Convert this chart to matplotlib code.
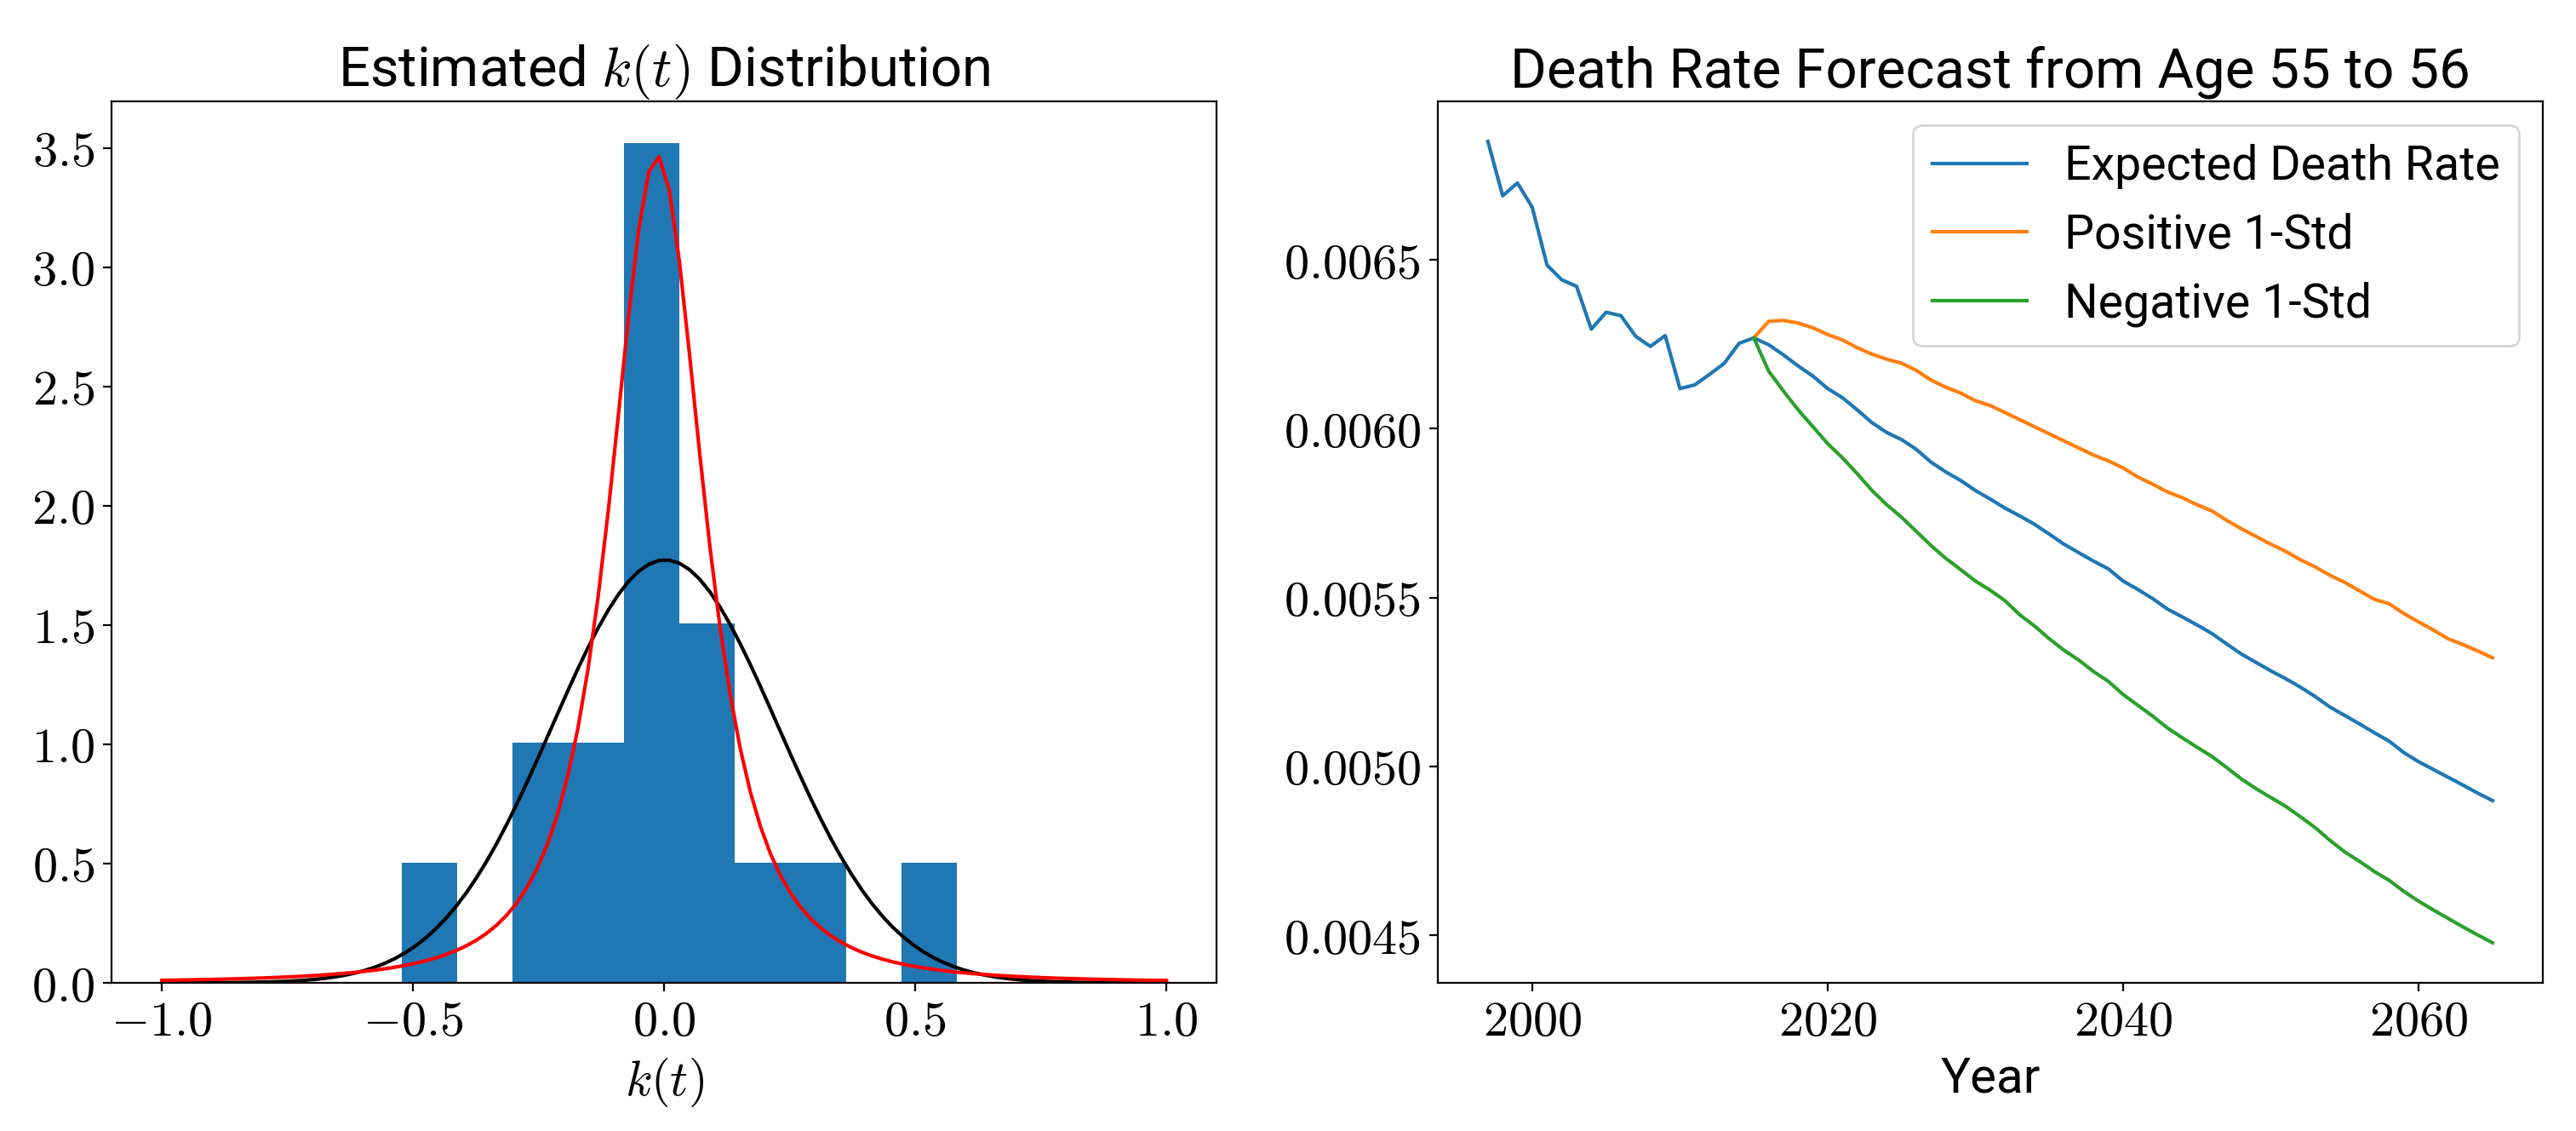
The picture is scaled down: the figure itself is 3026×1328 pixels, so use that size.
import math
import numpy as np
import matplotlib
matplotlib.use("Agg")
import matplotlib.pyplot as plt
from matplotlib.ticker import FuncFormatter

plt.rcParams['mathtext.fontset'] = 'cm'
plt.rcParams['font.family'] = ['Roboto', 'DejaVu Sans']

# Histogram of estimated k(t): bin range and counts per bin
kt_min, kt_max = -0.522, 0.583
kt_counts = [1, 0, 2, 2, 7, 3, 1, 1, 0, 1]

# fitted densities
norm_mu, norm_sigma = 0.002, 0.225
t_df, t_loc, t_scale = 2.0, -0.014, 0.102

# Death rate forecast, age 55 to 56
years = np.arange(1997, 2066)
forecast_years = np.arange(2015, 2066)
expected = [0.006851, 0.006690, 0.006728, 0.006656, 0.006485, 0.006441, 0.006422,
            0.006295, 0.006345, 0.006335, 0.006274, 0.006244, 0.006276, 0.006119,
            0.006130, 0.006161, 0.006194, 0.006253, 0.006269,
            0.006249, 0.006219, 0.006186, 0.006156, 0.006119, 0.006092, 0.006056,
            0.006018, 0.005989, 0.005968, 0.005939, 0.005901, 0.005872, 0.005847,
            0.005817, 0.005792, 0.005765, 0.005742, 0.005717, 0.005688, 0.005658,
            0.005633, 0.005608, 0.005585, 0.005549, 0.005524, 0.005497, 0.005466,
            0.005443, 0.005419, 0.005394, 0.005363, 0.005333, 0.005308, 0.005283,
            0.005260, 0.005235, 0.005207, 0.005176, 0.005151, 0.005126, 0.005100,
            0.005075, 0.005041, 0.005014, 0.004991, 0.004968, 0.004945, 0.004921,
            0.004899]
positive = [0.006269, 0.006318, 0.006321, 0.006313, 0.006299, 0.006279, 0.006263,
            0.006240, 0.006221, 0.006206, 0.006194, 0.006173, 0.006144, 0.006123,
            0.006106, 0.006083, 0.006069, 0.006048, 0.006027, 0.006006, 0.005985,
            0.005964, 0.005943, 0.005922, 0.005905, 0.005884, 0.005857, 0.005836,
            0.005813, 0.005796, 0.005775, 0.005757, 0.005729, 0.005704, 0.005681,
            0.005658, 0.005637, 0.005612, 0.005591, 0.005566, 0.005545, 0.005520,
            0.005495, 0.005482, 0.005453, 0.005428, 0.005404, 0.005378, 0.005361,
            0.005342, 0.005322]
negative = [0.006269, 0.006171, 0.006112, 0.006056, 0.006006, 0.005956, 0.005914,
            0.005867, 0.005817, 0.005775, 0.005738, 0.005696, 0.005654, 0.005616,
            0.005583, 0.005549, 0.005522, 0.005491, 0.005449, 0.005416, 0.005378,
            0.005344, 0.005315, 0.005281, 0.005252, 0.005213, 0.005181, 0.005149,
            0.005114, 0.005085, 0.005057, 0.005030, 0.004997, 0.004963, 0.004934,
            0.004908, 0.004882, 0.004851, 0.004819, 0.004781, 0.004747, 0.004719,
            0.004689, 0.004663, 0.004630, 0.004601, 0.004575, 0.004550, 0.004525,
            0.004501, 0.004478]

fig, (ax1, ax2) = plt.subplots(1, 2, figsize=(15.13, 6.64), dpi=200)
fig.subplots_adjust(left=0.0433, right=0.9871, bottom=0.131, top=0.9104, wspace=0.2)

tick_fs = 21
text_fs = 21
title_fs = 23.5

# --- left: k(t) histogram with fitted curves
edges = np.linspace(kt_min, kt_max, len(kt_counts) + 1)
centers = (edges[:-1] + edges[1:]) / 2
ax1.hist(centers, bins=edges, weights=kt_counts, density=True, color='tab:blue')

x = np.linspace(-1, 1, 100)
y_norm = np.exp(-(x - norm_mu) ** 2 / (2 * norm_sigma ** 2)) / (norm_sigma * math.sqrt(2 * math.pi))
coef = math.gamma((t_df + 1) / 2) / (math.sqrt(t_df * math.pi) * math.gamma(t_df / 2) * t_scale)
y_t = coef * (1 + ((x - t_loc) / t_scale) ** 2 / t_df) ** (-(t_df + 1) / 2)
ax1.plot(x, y_norm, color='black')
ax1.plot(x, y_t, color='red')

ax1.set_title(r'Estimated $k(t)$ Distribution', fontsize=title_fs)
ax1.set_xlabel(r'$k(t)$', fontsize=text_fs)
ax1.xaxis.set_major_formatter(FuncFormatter(lambda v, p: f'${v:.1f}$'))
ax1.yaxis.set_major_formatter(FuncFormatter(lambda v, p: f'${v:.1f}$'))

# --- right: death rate forecast
ax2.plot(years, expected, label='Expected Death Rate')
ax2.plot(forecast_years, positive, label='Positive 1-Std')
ax2.plot(forecast_years, negative, label='Negative 1-Std')
ax2.set_title('Death Rate Forecast from Age 55 to 56', fontsize=title_fs)
ax2.set_xlabel('Year', fontsize=text_fs)
ax2.xaxis.set_major_formatter(FuncFormatter(lambda v, p: f'${v:.0f}$'))
ax2.yaxis.set_major_formatter(FuncFormatter(lambda v, p: f'${v:.4f}$'))
ax2.legend(loc='upper right', fontsize=20, labelspacing=0.5)

for ax in (ax1, ax2):
    ax.tick_params(labelsize=tick_fs)

fig.savefig('out.png', dpi=200)
